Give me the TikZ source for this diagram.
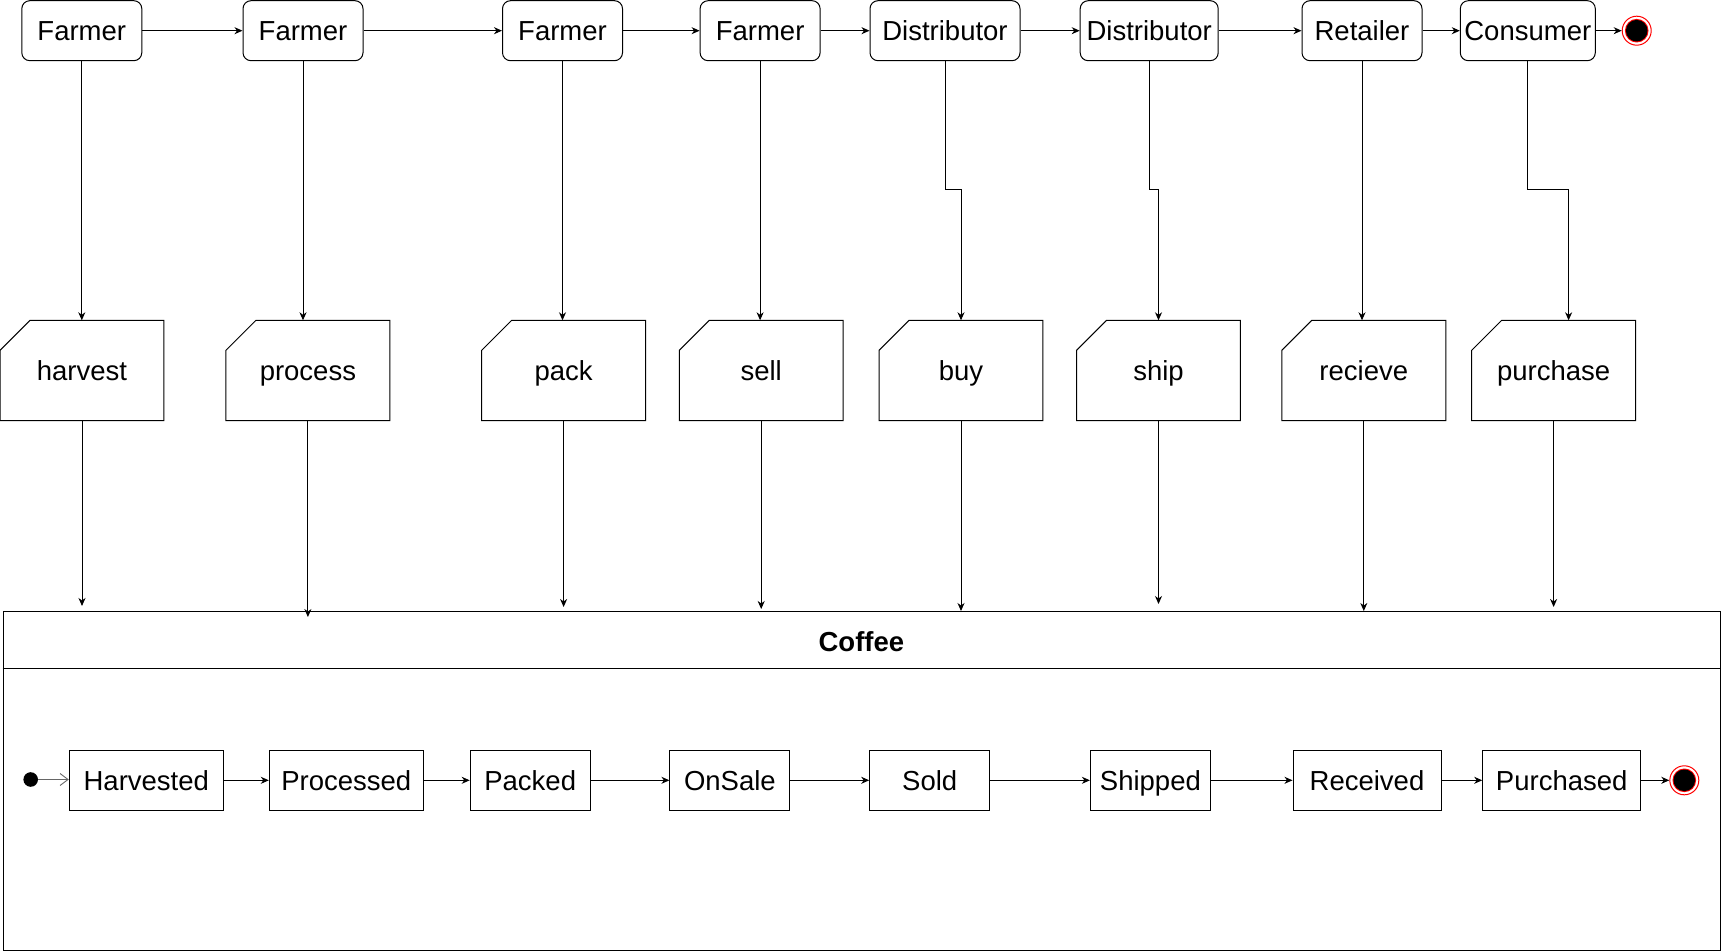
\documentclass[tikz,border=0pt]{standalone}
\usepackage{fontspec}
\setmainfont{Liberation Sans}
\usetikzlibrary{arrows.meta}
\tikzset{
  lbl/.style={font=\fontsize{27.5}{33}\selectfont, text height=19.7pt, text depth=0pt, inner sep=0pt},
  actor/.style={lbl, draw, rounded corners=8pt, minimum height=60pt, line width=1pt},
  cardn/.style={lbl, minimum width=163.5pt, minimum height=100pt},
  state/.style={lbl, draw, minimum height=60pt, line width=1pt},
  conn/.style={line width=1pt, -{Stealth[length=8pt,width=7pt,inset=2.5pt]}},
  openconn/.style={line width=1pt, draw=black!60, -{Straight Barb[length=8pt,width=12pt,line width=0.9pt]}},
  endst/.style={circle, draw=red, line width=1pt, minimum size=29pt, inner sep=0pt,
    path picture={\fill[red] (path picture bounding box.center) circle (11.8pt);
                  \fill[black] (path picture bounding box.center) circle (10.8pt);}},
  initst/.style={circle, fill=black, minimum size=14.6pt, inner sep=0pt},
}
\begin{document}
\begin{tikzpicture}[x=1pt, y=-1pt]
\useasboundingbox (0,0) rectangle (1721,952);

% top row actors
\node[actor, minimum width=120pt] (f1) at (81.8,30.7) {Farmer};
\node[actor, minimum width=120pt] (f2) at (303,30.7) {Farmer};
\node[actor, minimum width=120pt] (f3) at (562.5,30.7) {Farmer};
\node[actor, minimum width=120pt] (f4) at (760.1,30.7) {Farmer};
\node[actor, minimum width=150pt] (d1) at (945,30.7) {Distributor};
\node[actor, minimum width=138pt] (d2) at (1149.2,30.7) {Distributor};
\node[actor, minimum width=120pt] (ret) at (1362,30.7) {Retailer};
\node[actor, minimum width=135pt] (cons) at (1527.8,30.7) {Consumer};
\node[endst] (endtop) at (1636.7,30.7) {};

\draw[conn] (f1) -- (f2);
\draw[conn] (f2) -- (f3);
\draw[conn] (f3) -- (f4);
\draw[conn] (f4) -- (d1);
\draw[conn] (d1) -- (d2);
\draw[conn] (d2) -- (ret);
\draw[conn] (ret) -- (cons);
\draw[conn] (cons) -- (endtop);

% middle row events
\node[cardn] (harvest) at (82,370.5) {harvest};
\node[cardn] (process) at (307.9,370.5) {process};
\node[cardn] (pack) at (563.6,370.5) {pack};
\node[cardn] (sell) at (761.2,370.5) {sell};
\node[cardn] (buy) at (961,370.5) {buy};
\node[cardn] (ship) at (1158.5,370.5) {ship};
\node[cardn] (recieve) at (1363.8,370.5) {recieve};
\node[cardn] (purchase) at (1553.6,370.5) {purchase};
\foreach \n in {harvest,process,pack,sell,buy,ship,recieve,purchase}{
  \draw[line width=1pt] ([xshift=30pt]\n.north west) -- (\n.north east) -- (\n.south east)
     -- (\n.south west) -- ([yshift=-30pt]\n.north west) -- cycle;
}

% actor -> event
\draw[conn] (f1.south) -- (f1.south |- harvest.north);
\draw[conn] (f2.south) -- (f2.south |- process.north);
\draw[conn] (f3.south) -- (f3.south |- pack.north);
\draw[conn] (f4.south) -- (f4.south |- sell.north);
\draw[conn] (d1.south) -- (d1.south |- 0,190) -| (buy.north);
\draw[conn] (d2.south) -- (d2.south |- 0,190) -| (ship.north);
\draw[conn] (ret.south) -- (ret.south |- recieve.north);
\draw[conn] (cons.south) -- (cons.south |- 0,190) -| ([xshift=15pt]purchase.north);

% coffee container
\node[draw, line width=1pt, minimum width=1717.3pt, minimum height=338.8pt, anchor=north west, inner sep=0pt] (coffee) at (2.7,610.7) {};
\draw[line width=1pt] (coffee.west |- 0,668.3) -- (coffee.east |- 0,668.3);
\node[lbl, font=\bfseries\fontsize{27.5}{33}\selectfont] (title) at (861.4,642) {Coffee};

% event -> coffee
\draw[conn] (harvest.south) -- (harvest.south |- 0,606);
\draw[conn] (process.south) -- (process.south |- 0,617);
\draw[conn] (pack.south) -- (pack.south |- 0,607);
\draw[conn] (sell.south) -- (sell.south |- 0,609);
\draw[conn] (buy.south) -- (buy.south |- 0,611);
\draw[conn] (ship.south) -- (ship.south |- 0,604);
\draw[conn] (recieve.south) -- (recieve.south |- 0,611);
\draw[conn] (purchase.south) -- (purchase.south |- 0,607);

% states
\node[initst] (init) at (30.7,779.5) {};
\node[state, minimum width=154pt] (s1) at (146.3,780.3) {Harvested};
\node[state, minimum width=154pt] (s2) at (346.3,780.3) {Processed};
\node[state, minimum width=120pt] (s3) at (530.2,780.3) {Packed};
\node[state, minimum width=120pt] (s4) at (729.9,780.3) {OnSale};
\node[state, minimum width=120pt] (s5) at (929.7,780.3) {Sold};
\node[state, minimum width=120pt] (s6) at (1150.4,780.3) {Shipped};
\node[state, minimum width=148pt] (s7) at (1367,780.3) {Received};
\node[state, minimum width=158pt] (s8) at (1561.7,780.3) {Purchased};
\node[endst] (endbot) at (1684.3,780.3) {};

\draw[openconn] (init) -- (init -| s1.west);
\draw[conn] (s1) -- (s2);
\draw[conn] (s2) -- (s3);
\draw[conn] (s3) -- (s4);
\draw[conn] (s4) -- (s5);
\draw[conn] (s5) -- (s6);
\draw[conn] (s6) -- (s7);
\draw[conn] (s7) -- (s8);
\draw[conn] (s8) -- (endbot);
\end{tikzpicture}
\end{document}
